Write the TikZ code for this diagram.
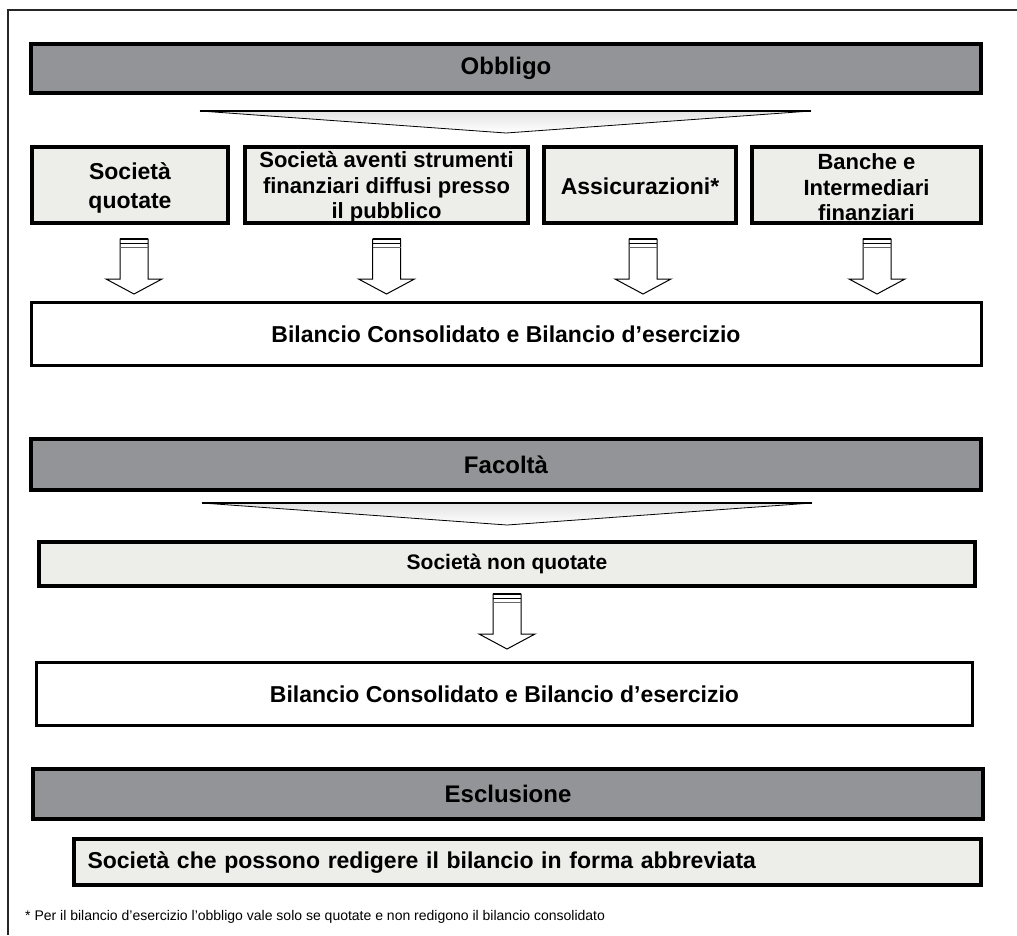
\documentclass[tikz,border=0pt]{standalone}
\usepackage{fontspec}
\setmainfont{Liberation Sans}
\definecolor{bargray}{HTML}{939498}
\definecolor{boxfill}{HTML}{EDEDE9}
\tikzset{
  x=1pt, y=-1pt,
  bandbox/.style={draw=black, line width=4pt, fill=bargray, inner sep=0pt,
    font=\fontsize{24}{28}\selectfont\bfseries},
  itembox/.style={draw=black, line width=4pt, fill=boxfill, inner sep=0pt, align=center,
    font=\fontsize{23}{29}\selectfont\bfseries},
  itemtext/.style={inner sep=0pt, align=center, font=\fontsize{22}{25.5}\selectfont\bfseries},
  bigitemtext/.style={inner sep=0pt, align=center, font=\fontsize{23}{29}\selectfont\bfseries},
  resultbox/.style={draw=black, line width=3pt, fill=white, inner sep=0pt,
    font=\fontsize{23}{27}\selectfont\bfseries},
  funnel/.style={draw=black, line width=0.8pt, top color=gray!22, bottom color=white},
  blockarrow/.style={draw=black, line width=1pt, fill=white, line join=miter},
}
% hollow down arrow hanging from a named coordinate
\newcommand{\downblock}[1]{%
  \begin{scope}[shift={(#1)}]
    \path[blockarrow] (-14,0) -- (14,0) -- (14,40) -- (28,40) -- (0,55)
      -- (-28,40) -- (-14,40) -- cycle;
    \draw[line width=2pt] (-14,0) -- (14,0);
    \draw[line width=1pt] (-14,4) -- (14,4);
    \draw[line width=1.2pt, gray!80!black] (-14,8.5) -- (14,8.5);
  \end{scope}}
\begin{document}
\begin{tikzpicture}
  \useasboundingbox (0,0) rectangle (1017,935);
  % outer frame (top and left edges)
  \draw[line width=1.5pt, gray!30!black] (8,935) -- (8,10) -- (1017,10);

  % --- Obbligo section
  \node[bandbox, minimum width=950, minimum height=49] (obb) at (506,68.5) {Obbligo};
  \path[funnel] (200,111) -- (811,111) -- (506,133) -- cycle;
  \draw[line width=2pt] (200,111) -- (811,111);

  \node[itembox, minimum width=196, minimum height=76] (b1) at (130,185) {};
  \node[itembox, minimum width=283, minimum height=76] (b2) at (386.5,185) {};
  \node[itembox, minimum width=192, minimum height=76] (b3) at (640,185) {};
  \node[itembox, minimum width=229, minimum height=76] (b4) at (866.5,185) {};
  \node[bigitemtext] (t1) at ([yshift=-3]b1.center) {Società\\quotate};
  \node[itemtext] (t2) at ([yshift=-2.5]b2.center)
    {Società aventi strumenti\\finanziari diffusi presso\\il pubblico};
  \node[bigitemtext] (t3) at ([yshift=-1]b3.center) {Assicurazioni*};
  \node[itemtext] (t4) at ([yshift=-2.5]b4.center) {Banche e\\Intermediari\\finanziari};

  \coordinate (a1) at (134,239);
  \coordinate (a2) at (386.5,239);
  \coordinate (a3) at (643,239);
  \coordinate (a4) at (877,239);
  \downblock{a1}\downblock{a2}\downblock{a3}\downblock{a4}

  \node[resultbox, minimum width=950, minimum height=63] (bil1) at (506,334)
    {Bilancio Consolidato e Bilancio d’esercizio};

  % --- Facoltà section
  \node[bandbox, minimum width=950, minimum height=51] (fac) at (506,464.5) {Facoltà};
  \path[funnel] (202,503) -- (812,503) -- (507,525) -- cycle;
  \draw[line width=2pt] (202,503) -- (812,503);

  \node[itembox, minimum width=936, minimum height=44,
    font=\fontsize{21}{25}\selectfont\bfseries] (nq) at (507,564)
    {Società non quotate};
  \coordinate (a5) at (507,594);
  \downblock{a5}

  \node[resultbox, minimum width=936, minimum height=63] (bil2) at (504.5,694)
    {Bilancio Consolidato e Bilancio d’esercizio};

  % --- Esclusione section
  \node[bandbox, minimum width=950, minimum height=50] (esc) at (508,794) {Esclusione};
  \node[itembox, minimum width=907, minimum height=46, text width=880, align=left,
    font=\fontsize{23}{27}\selectfont\bfseries]
    (abbr) at (527.5,862) {Società che possono redigere il bilancio in forma abbreviata};

  \node[anchor=west, inner sep=0pt, font=\fontsize{14}{17}\selectfont] (note) at (25,917)
    {* Per il bilancio d’esercizio l’obbligo vale solo se quotate e non redigono il bilancio consolidato};
\end{tikzpicture}
\end{document}
